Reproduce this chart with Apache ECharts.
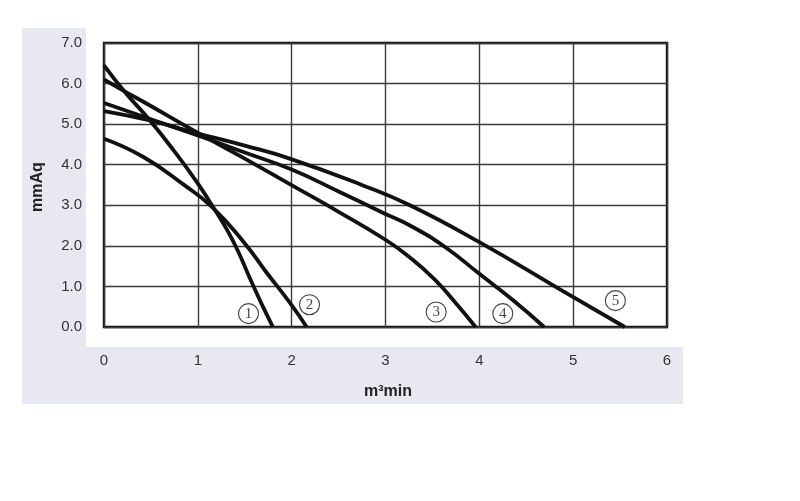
<!DOCTYPE html>
<html>
<head>
<meta charset="utf-8">
<script src="https://cdn.jsdelivr.net/npm/echarts@6/dist/echarts.min.js"></script>
<style>html,body{margin:0;padding:0;background:#fff;}#c{width:800px;height:501px;}</style>
</head>
<body>
<div id="c"></div>
<script>
// Data (flow m3/min, pressure mmAq)
const curve1 = [[0,6.45],[0.22,5.80],[0.49,5.09],[0.74,4.36],[0.99,3.57],[1.15,3.0],[1.31,2.40],[1.43,1.86],[1.57,1.12],[1.69,0.52],[1.80,0]];
const curve2 = [[0,4.64],[0.42,4.19],[0.86,3.49],[1.15,2.96],[1.49,2.09],[1.73,1.35],[1.98,0.6],[2.16,0]];
const curve3 = [[0,6.10],[0.22,5.81],[0.49,5.46],[0.92,4.89],[1.5,4.15],[1.98,3.52],[2.5,2.84],[3.0,2.15],[3.25,1.73],[3.52,1.18],[3.73,0.64],[3.96,0]];
const curve4 = [[0,5.52],[0.5,5.12],[1.0,4.72],[1.5,4.30],[2.0,3.88],[2.5,3.34],[2.96,2.83],[3.31,2.44],[3.66,1.93],[4.0,1.31],[4.36,0.66],[4.69,0]];
const curve5 = [[0,5.32],[0.49,5.09],[0.95,4.80],[1.5,4.47],[1.98,4.15],[2.76,3.49],[3.26,3.0],[4.0,2.09],[4.85,0.94],[5.55,0]];
const curves = [curve1, curve2, curve3, curve4, curve5];
const labelNames = ['1','2','3','4','5'];
const labelX = [1.54, 2.19, 3.54, 4.25, 5.45];
const labelY = [0.33, 0.55, 0.37, 0.33, 0.65];
const xTicks = {min:0, max:6, interval:1};
const yTicks = {min:0, max:7, interval:1};
const xName = 'm³min';
const yName = 'mmAq';

const chart = echarts.init(document.getElementById('c'));
const series = curves.map(c => ({
  type:'line', data:c, smooth:0.5, showSymbol:false, silent:true,
  lineStyle:{color:'#111', width:3.8}, z:3
}));
series.push({
  type:'scatter',
  data: labelX.map((x,i)=>({value:[x,labelY[i]], name:labelNames[i]})),
  symbol:'circle', symbolSize:20,
  itemStyle:{color:'#fff', borderColor:'#111', borderWidth:1.1},
  label:{show:true, position:'inside', formatter: p=>p.name, fontFamily:'Liberation Serif', fontSize:15, color:'#111'},
  z:5
});
chart.setOption({
  animation:false,
  backgroundColor:'#fff',
  graphic:[
    {type:'rect', shape:{x:22, y:28, width:64, height:376}, style:{fill:'#e8e8f0'}, z:-10},
    {type:'rect', shape:{x:22, y:347, width:661, height:57}, style:{fill:'#e8e8f0'}, z:-10},
    {type:'text', x:388, y:392, style:{text:xName, font:'bold 16px "Liberation Sans", Arial', fill:'#222', textAlign:'center', textVerticalAlign:'middle'}},
    {type:'text', x:38, y:187, rotation:Math.PI/2, style:{text:yName, font:'bold 16px "Liberation Sans", Arial', fill:'#222', textAlign:'center', textVerticalAlign:'middle'}}
  ],
  grid:{left:104, top:43, width:563, height:284, show:true, borderColor:'#111', borderWidth:2.4, backgroundColor:'#fff'},
  xAxis:{type:'value', min:xTicks.min, max:xTicks.max, interval:xTicks.interval,
    axisLine:{show:false}, axisTick:{show:false},
    splitLine:{show:true, lineStyle:{color:'#3a3a3a', width:1.4}},
    axisLabel:{margin:26, fontFamily:'Liberation Sans', fontSize:15, color:'#333'}},
  yAxis:{type:'value', min:yTicks.min, max:yTicks.max, interval:yTicks.interval,
    axisLine:{show:false}, axisTick:{show:false},
    splitLine:{show:true, lineStyle:{color:'#3a3a3a', width:1.4}},
    axisLabel:{margin:22, fontFamily:'Liberation Sans', fontSize:15, color:'#333', formatter:v=>v.toFixed(1)}},
  series:series
});
</script>
</body>
</html>
